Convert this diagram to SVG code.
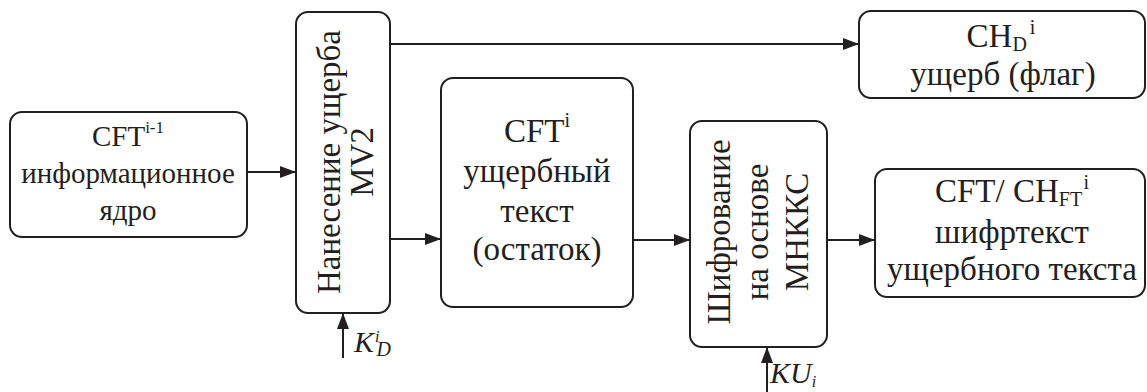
<svg xmlns="http://www.w3.org/2000/svg" width="1147" height="392" viewBox="0 0 1147 392" font-family="'Liberation Serif', 'Times New Roman', serif">
  <style>
    .box { fill: #ffffff; stroke: #231f20; stroke-width: 2; }
    .lbl { font-family: 'Liberation Serif', 'Times New Roman', serif; font-size: 33px; fill: #231f20; text-anchor: middle; }
    .core { font-size: 29px; }
    .sm { font-size: 20px; }
    .var { font-family: 'Liberation Serif', 'Times New Roman', serif; font-style: italic; font-size: 30px; fill: #231f20; }
    .wire { fill: none; stroke: #231f20; stroke-width: 2; }
  </style>
  <defs>
    <marker id="arrow" viewBox="0 0 16 12" refX="16" refY="6" markerWidth="16" markerHeight="12" markerUnits="userSpaceOnUse" orient="auto">
      <path d="M0,0 L16,6 L0,12 Z" fill="#231f20"/>
    </marker>
  </defs>

  <!-- connectors -->
  <g id="connectors">
    <line class="wire" x1="247" y1="172" x2="296" y2="172" marker-end="url(#arrow)"/>
    <line class="wire" x1="390" y1="44" x2="859" y2="44" marker-end="url(#arrow)"/>
    <line class="wire" x1="390" y1="239" x2="441" y2="239" marker-end="url(#arrow)"/>
    <line class="wire" x1="633" y1="240" x2="690" y2="240" marker-end="url(#arrow)"/>
    <line class="wire" x1="827" y1="240" x2="875" y2="240" marker-end="url(#arrow)"/>
    <line class="wire" x1="343" y1="358" x2="343" y2="313" marker-end="url(#arrow)"/>
    <line class="wire" x1="767" y1="392" x2="767" y2="347" marker-end="url(#arrow)"/>
  </g>

  <!-- input: information core -->
  <g id="core">
    <rect class="box" x="10" y="112" width="237" height="125" rx="12"/>
    <text class="lbl core" x="128" y="146">CFT<tspan font-size="17" dy="-13">i-1</tspan></text>
    <text class="lbl core" x="128" y="183">информационное</text>
    <text class="lbl core" x="128" y="220">ядро</text>
  </g>

  <!-- damage application MV2 -->
  <g id="damage">
    <rect class="box" x="296" y="12" width="94" height="301" rx="12"/>
    <text class="lbl" transform="translate(340,162) rotate(-90)">Нанесение ущерба</text>
    <text class="lbl" transform="translate(373,162) rotate(-90)">MV2</text>
  </g>
  <g id="key-d">
    <text class="var" x="354" y="352">K<tspan font-size="16" dy="-10" dx="1">i</tspan><tspan font-size="20" dx="-3" dy="14">D</tspan></text>
  </g>

  <!-- damaged text (remainder) -->
  <g id="remainder">
    <rect class="box" x="441" y="78" width="192" height="229" rx="12"/>
    <text class="lbl" x="537" y="142">CFT<tspan class="sm" dy="-15">i</tspan></text>
    <text class="lbl" x="537" y="182">ущербный</text>
    <text class="lbl" x="537" y="222">текст</text>
    <text class="lbl" x="537" y="260">(остаток)</text>
  </g>

  <!-- encryption block -->
  <g id="cipher">
    <rect class="box" x="690" y="121" width="137" height="226" rx="12"/>
    <text class="lbl" transform="translate(730,232) rotate(-90)">Шифрование</text>
    <text class="lbl" transform="translate(768,232) rotate(-90)">на основе</text>
    <text class="lbl" transform="translate(808,232) rotate(-90)">МНККС</text>
  </g>
  <g id="key-u">
    <text class="var" x="770" y="383">KU<tspan font-size="16" dy="4">i</tspan></text>
  </g>

  <!-- damage flag output -->
  <g id="flag">
    <rect class="box" x="859" y="11" width="286" height="87" rx="12"/>
    <text class="lbl" x="1001" y="47">CH<tspan class="sm" dy="4">D</tspan><tspan class="sm" dy="-17" dx="3">i</tspan></text>
    <text class="lbl" x="1003" y="85">ущерб (флаг)</text>
  </g>

  <!-- ciphertext output -->
  <g id="ciphertext">
    <rect class="box" x="875" y="169" width="270" height="128" rx="12"/>
    <text class="lbl" x="1012" y="202">CFT/ CH<tspan class="sm" dy="4">FT</tspan><tspan class="sm" dy="-17" dx="2">i</tspan></text>
    <text class="lbl" x="1012" y="243">шифртекст</text>
    <text class="lbl" x="1012" y="280">ущербного текста</text>
  </g>
</svg>
